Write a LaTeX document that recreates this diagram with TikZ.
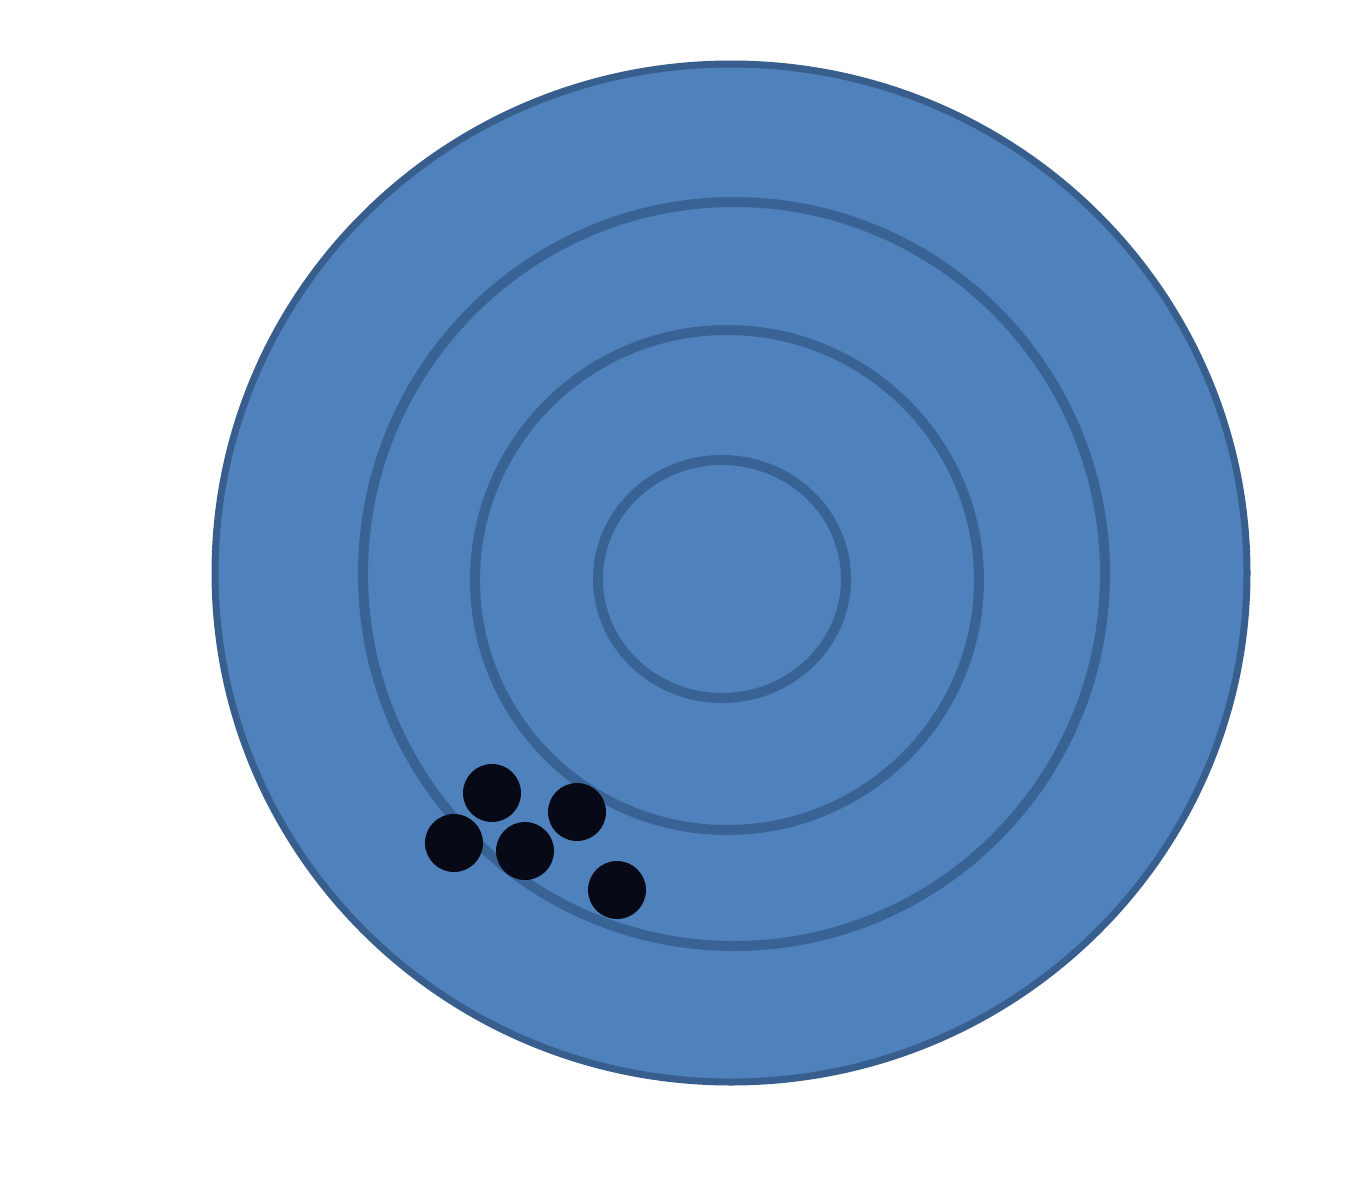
\documentclass[tikz,border=0pt]{standalone}
\definecolor{tfill}{HTML}{4F81BD}
\definecolor{tedge}{HTML}{385E8E}
\definecolor{tring}{HTML}{3A6395}
\definecolor{tdot}{HTML}{070A16}
\tikzset{
  ring/.style={draw=tring, line width=5pt},
  shot/.style={fill=tdot}
}
\begin{document}
\begin{tikzpicture}[x=0.5pt,y=-0.5pt]
\useasboundingbox (0,0) rectangle (1362,1200);
\fill[white] (0,0) rectangle (1362,1200);
% target face
\draw[fill=tfill, draw=tedge, line width=3.5pt] (731,573) ellipse [x radius=516, y radius=509];
% rings
\draw[ring] (734,574) ellipse [x radius=371, y radius=372];
\draw[ring] (727,580) ellipse [x radius=252, y radius=250];
\draw[ring] (722,579) ellipse [x radius=124, y radius=119];
% shots
\fill[shot] (492,793) circle [radius=29];
\fill[shot] (577,812) circle [radius=29];
\fill[shot] (454,843) circle [radius=29];
\fill[shot] (525,851) circle [radius=29];
\fill[shot] (617,890) circle [radius=29];
\end{tikzpicture}
\end{document}
